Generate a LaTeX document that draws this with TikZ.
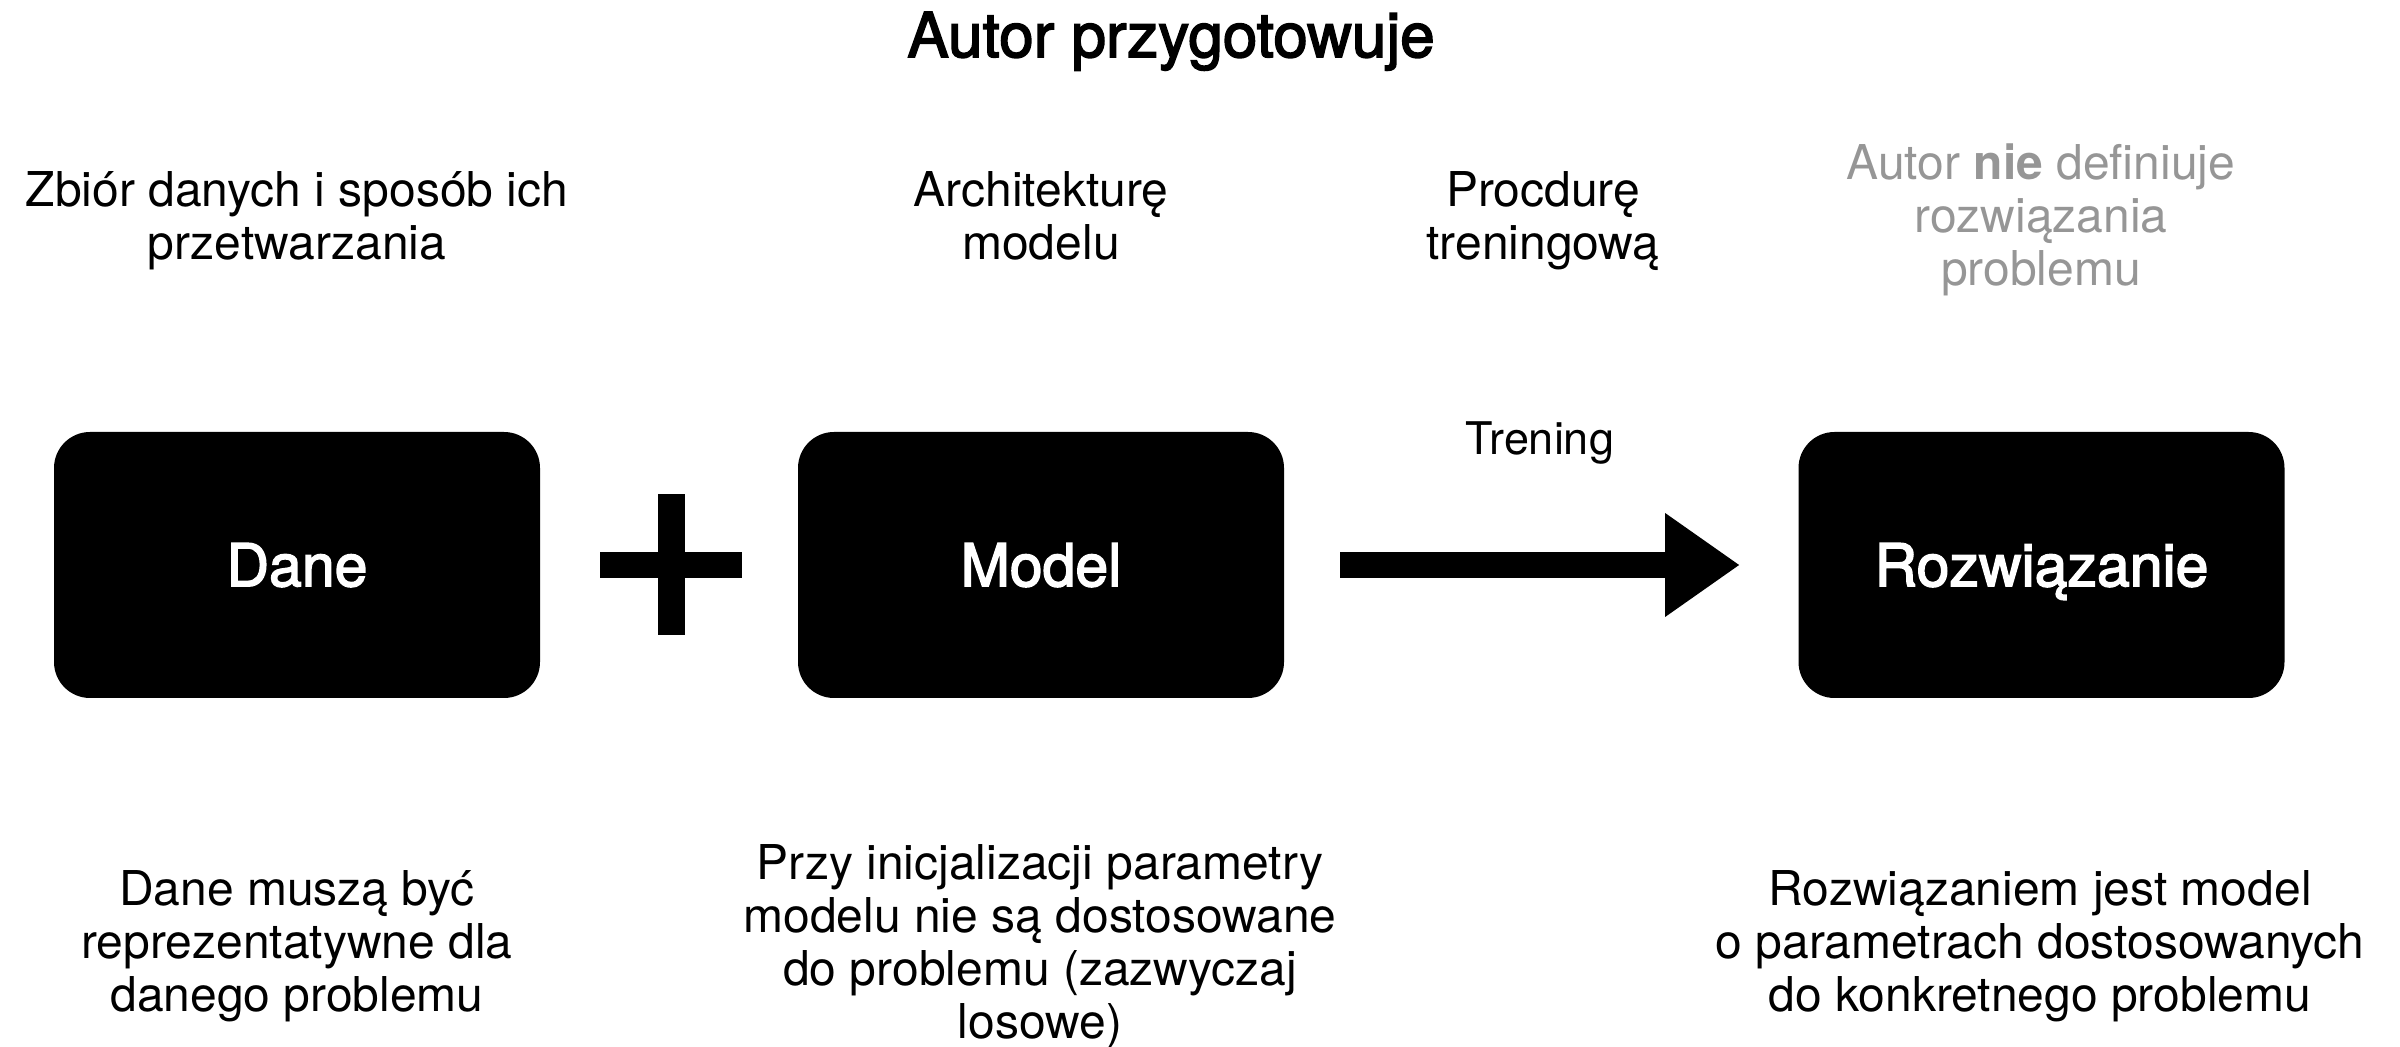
\documentclass[tikz,border=0pt]{standalone}
\usepackage{fontspec}
\setmainfont{TeX Gyre Heros}
\newfontfamily\medfont{TeX Gyre Heros}[FakeBold=2.5]
\usetikzlibrary{arrows.meta}
\definecolor{softgray}{RGB}{150,150,150}
\begin{document}
\begin{tikzpicture}[x=0.5pt,y=-0.5pt,
  box/.style={fill=black, text=white, rounded corners=18pt,
    minimum width=243pt, minimum height=133pt, inner sep=0pt,
    font=\medfont\fontsize{29.5}{34}\selectfont,
    text height=21.2pt, text depth=0pt},
  note/.style={align=center, inner sep=0pt,
    font=\fontsize{24}{26.5}\selectfont},
  heading/.style={inner sep=0pt, anchor=base,
    font=\medfont\fontsize{31}{35}\selectfont},
  flow/.style={line width=13pt,
    -{Triangle[length=37pt,width=52pt,line width=0pt]}}]
\useasboundingbox (0,0) rectangle (2400,1047);

% title
\node[heading] (title) at (1171,57) {Autor przygotowuje};

% main blocks
\node[box] (dane) at (297,565) {Dane};
\node[box] (model) at (1041,565) {Model};
\node[box] (sol) at (2041.5,565) {Rozwiązanie};

% plus sign between the first two blocks
\coordinate (plus) at (671,565);
\fill (plus) ++(-13.5,-70.5) rectangle ++(27,141);
\fill (plus) ++(-71,-13) rectangle ++(142,26);

% training arrow
\draw[flow, shorten <=28pt, shorten >=29.5pt] (model) -- (sol);
\node[note, anchor=base, font=\fontsize{22.5}{26}\selectfont] (trening) at (1540,455) {Trening};

% what the author prepares
\node[note] (prepdata) at (297,222) {\strut Zbiór danych i sposób ich\\\strut przetwarzania};
\node[note] (preparch) at (1041,222) {\strut Architekturę\\\strut modelu};
\node[note] (preptrain) at (1543,222) {\strut Procdurę\\\strut treningową};
\node[note, text=softgray] (notsol) at (2041,222) {\strut Autor \textbf{nie} definiuje\\\strut rozwiązania\\\strut problemu};

% remarks under the blocks
\node[note] (remdata) at (297,948) {\strut Dane muszą być\\\strut reprezentatywne dla\\\strut danego problemu};
\node[note] (remmodel) at (1040,948) {\strut Przy inicjalizacji parametry\\\strut modelu nie są dostosowane\\\strut do problemu (zazwyczaj\\\strut losowe)};
\node[note] (remsol) at (2040,948) {\strut Rozwiązaniem jest model\\\strut o parametrach dostosowanych\\\strut do konkretnego problemu};
\end{tikzpicture}
\end{document}
